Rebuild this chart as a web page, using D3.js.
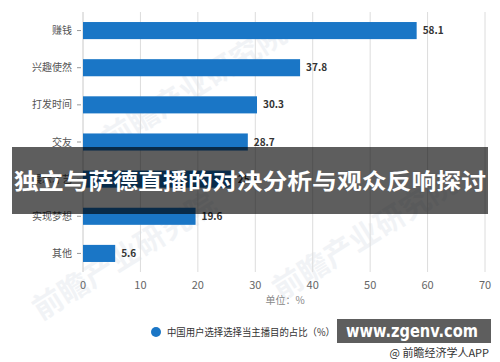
<!DOCTYPE html>
<html>
<head>
<meta charset="utf-8">
<script src="https://cdn.jsdelivr.net/npm/d3@7"></script>
<style>
  html, body { margin: 0; padding: 0; background: #fff; }
  svg { display: block; font-family: "Noto Sans CJK SC", "Noto Sans", sans-serif; }
</style>
</head>
<body>
<div id="chart"></div>
<script>
// Data
const categories = ['赚钱', '兴趣使然', '打发时间', '交友', '展示才艺', '实现梦想', '其他'];
const values = [58.1, 37.8, 30.3, 28.7, 25.9, 19.6, 5.6];
const xTicks = [0, 10, 20, 30, 40, 50, 60, 70];

const title = '独立与萨德直播的对决分析与观众反响探讨';
const legendLabel = '中国用户选择选择当主播目的占比（%）';
const unitLabel = '单位：%';

const W = 500, H = 362;
const BAR_COLOR = '#1a76c6';

const svg = d3.select('#chart').append('svg')
  .attr('width', W)
  .attr('height', H);

const x = d3.scaleLinear().domain([0, 70]).range([83, 485]);
const y = d3.scaleBand().domain(categories).range([12, 272]).paddingInner(0.54).paddingOuter(0.27);

// faint watermark
[[200, 95], [370, 245], [130, 265]].forEach(([wx, wy]) => {
  svg.append('text')
    .attr('transform', `translate(${wx},${wy}) rotate(-32)`)
    .attr('text-anchor', 'middle')
    .attr('font-size', 30)
    .attr('font-weight', 'bold')
    .attr('fill', '#7f95ad')
    .attr('opacity', 0.1)
    .text('前瞻产业研究院');
});

// gridlines
svg.append('g')
  .selectAll('line')
  .data(xTicks.slice(1))
  .join('line')
  .attr('x1', d => x(d)).attr('x2', d => x(d))
  .attr('y1', 12).attr('y2', 272)
  .attr('stroke', '#dcdcdc')
  .attr('stroke-width', 1);

// left axis line + ticks
svg.append('line')
  .attr('x1', x(0)).attr('x2', x(0))
  .attr('y1', 12).attr('y2', 272)
  .attr('stroke', '#c8c8c8');

const yCenter = d => y(d) + y.bandwidth() / 2;

svg.append('g')
  .selectAll('line')
  .data(categories)
  .join('line')
  .attr('x1', 77).attr('x2', 81)
  .attr('y1', yCenter).attr('y2', yCenter)
  .attr('stroke', '#999');

svg.append('g')
  .selectAll('text')
  .data(categories)
  .join('text')
  .attr('x', 72)
  .attr('y', yCenter)
  .attr('dy', '0.35em')
  .attr('text-anchor', 'end')
  .attr('font-size', 10)
  .attr('fill', '#555')
  .text(d => d);

// bars
svg.append('g')
  .selectAll('rect')
  .data(values)
  .join('rect')
  .attr('x', x(0))
  .attr('y', (d, i) => y(categories[i]))
  .attr('width', d => x(d) - x(0))
  .attr('height', y.bandwidth())
  .attr('fill', BAR_COLOR);

// value labels
svg.append('g')
  .selectAll('text')
  .data(values)
  .join('text')
  .attr('x', d => x(d) + 6)
  .attr('y', (d, i) => yCenter(categories[i]))
  .attr('dy', '0.35em')
  .attr('font-size', 10)
  .attr('font-weight', 'bold')
  .attr('fill', '#333')
  .text(d => d.toFixed(1));

// x tick labels
svg.append('g')
  .selectAll('text')
  .data(xTicks)
  .join('text')
  .attr('x', d => x(d))
  .attr('y', 285)
  .attr('dy', '0.35em')
  .attr('text-anchor', 'middle')
  .attr('font-size', 11)
  .attr('fill', '#666')
  .text(d => d);

svg.append('text')
  .attr('x', 285).attr('y', 300)
  .attr('dy', '0.35em')
  .attr('text-anchor', 'middle')
  .attr('font-size', 10)
  .attr('fill', '#888')
  .text(unitLabel);

// legend
svg.append('circle')
  .attr('cx', 156).attr('cy', 332).attr('r', 5)
  .attr('fill', BAR_COLOR);
svg.append('text')
  .attr('x', 167).attr('y', 332)
  .attr('dy', '0.35em')
  .attr('font-size', 10)
  .attr('fill', '#333')
  .attr('textLength', 168)
  .attr('lengthAdjust', 'spacingAndGlyphs')
  .text(legendLabel);

// title banner
svg.append('rect')
  .attr('x', 12).attr('y', 147)
  .attr('width', 476).attr('height', 67)
  .attr('fill', '#000')
  .attr('opacity', 0.63);
svg.append('text')
  .attr('x', 250).attr('y', 181)
  .attr('dy', '0.35em')
  .attr('text-anchor', 'middle')
  .attr('font-size', 22)
  .attr('font-weight', 'bold')
  .attr('fill', '#fff')
  .attr('textLength', 472)
  .attr('lengthAdjust', 'spacingAndGlyphs')
  .text(title);

// site badge
svg.append('rect')
  .attr('x', 337).attr('y', 319)
  .attr('width', 154).attr('height', 24)
  .attr('fill', '#000')
  .attr('opacity', 0.63);
svg.append('text')
  .attr('x', 346).attr('y', 331)
  .attr('dy', '0.35em')
  .attr('font-family', '"DejaVu Sans", sans-serif')
  .attr('font-size', 17)
  .attr('font-weight', 'bold')
  .attr('fill', '#fff')
  .attr('textLength', 132)
  .attr('lengthAdjust', 'spacingAndGlyphs')
  .text('www.zgenv.com');

svg.append('text')
  .attr('x', 489).attr('y', 353)
  .attr('dy', '0.35em')
  .attr('text-anchor', 'end')
  .attr('font-size', 11)
  .attr('fill', '#333')
  .text('@ 前瞻经济学人APP');
</script>
</body>
</html>
